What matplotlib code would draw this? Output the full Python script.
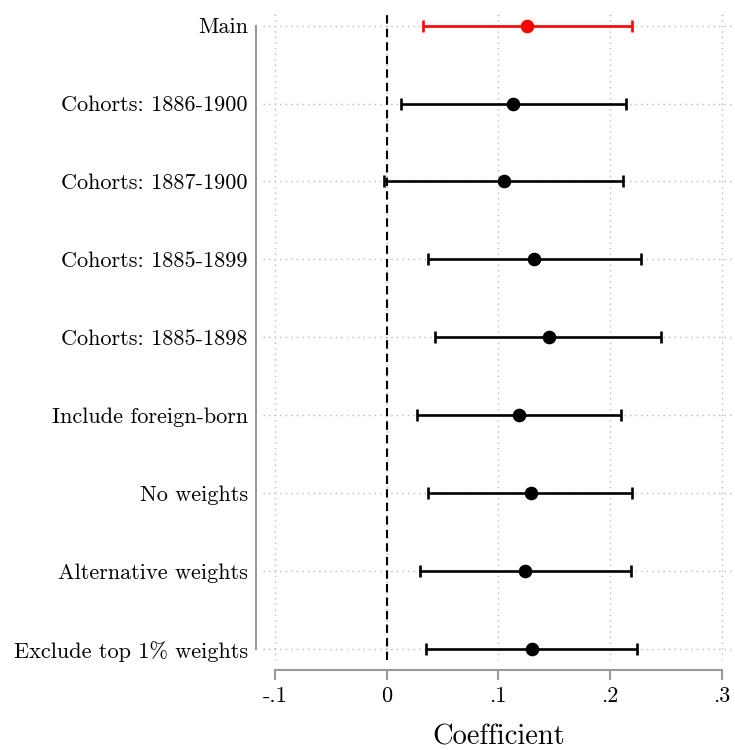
import matplotlib
matplotlib.use("Agg")
import matplotlib.pyplot as plt

# specification labels, top to bottom
labels = ["Main", "Cohorts: 1886-1900", "Cohorts: 1887-1900", "Cohorts: 1885-1899",
          "Cohorts: 1885-1898", "Include foreign-born", "No weights",
          "Alternative weights", "Exclude top 1% weights"]
coef = [0.126, 0.113, 0.105, 0.132, 0.145, 0.119, 0.129, 0.124, 0.130]
ci_low = [0.0325, 0.013, -0.002, 0.037, 0.043, 0.027, 0.037, 0.030, 0.035]
ci_high = [0.220, 0.214, 0.212, 0.228, 0.246, 0.210, 0.220, 0.219, 0.224]
xticks = [-0.1, 0, 0.1, 0.2, 0.3]
xtick_labels = ["-.1", "0", ".1", ".2", ".3"]

plt.rcParams['font.family'] = ['cmr10', 'DejaVu Serif']
plt.rcParams['axes.unicode_minus'] = False

fig = plt.figure(figsize=(7.35, 7.5), dpi=100)
ax = fig.add_axes([263 / 735, 90 / 750, 472 / 735, 650 / 750])

ypos = list(range(len(labels)))
for i, y in enumerate(ypos):
    col = 'red' if i == 0 else 'black'
    ax.errorbar(coef[i], y, xerr=[[coef[i] - ci_low[i]], [ci_high[i] - coef[i]]],
                fmt='o', color=col, ms=8.8, elinewidth=1.9, capsize=4, capthick=1.9,
                zorder=3)

ax.axvline(0, color='black', ls=(0, (4, 2.5)), lw=1.5, zorder=2)

ax.set_xlim(-0.1107, 0.312)
ax.set_ylim(len(labels) - 1 + 0.14, -0.2)
ax.set_yticks(ypos)
ax.set_yticklabels(labels)
ax.set_xticks(xticks)
ax.set_xticklabels(xtick_labels)
ax.set_xlabel("Coefficient", fontsize=20.5, labelpad=13)

ax.grid(True, ls=(0, (1, 3)), color='#bbbbbb', lw=1)
ax.set_axisbelow(True)

for s in ['top', 'right']:
    ax.spines[s].set_visible(False)
ax.spines['bottom'].set_position(('outward', 7))
ax.spines['bottom'].set_bounds(-0.1, 0.3)
ax.spines['left'].set_position(('outward', 5))
ax.spines['left'].set_bounds(0, len(labels) - 1)
for s in ['bottom', 'left']:
    ax.spines[s].set_color('#999999')
    ax.spines[s].set_linewidth(1.5)
ax.tick_params(axis='x', length=7, width=1.5, color='#999999', pad=5, labelsize=16)
ax.tick_params(axis='y', length=0, pad=6, labelsize=16)

fig.savefig("out.png", dpi=100)
